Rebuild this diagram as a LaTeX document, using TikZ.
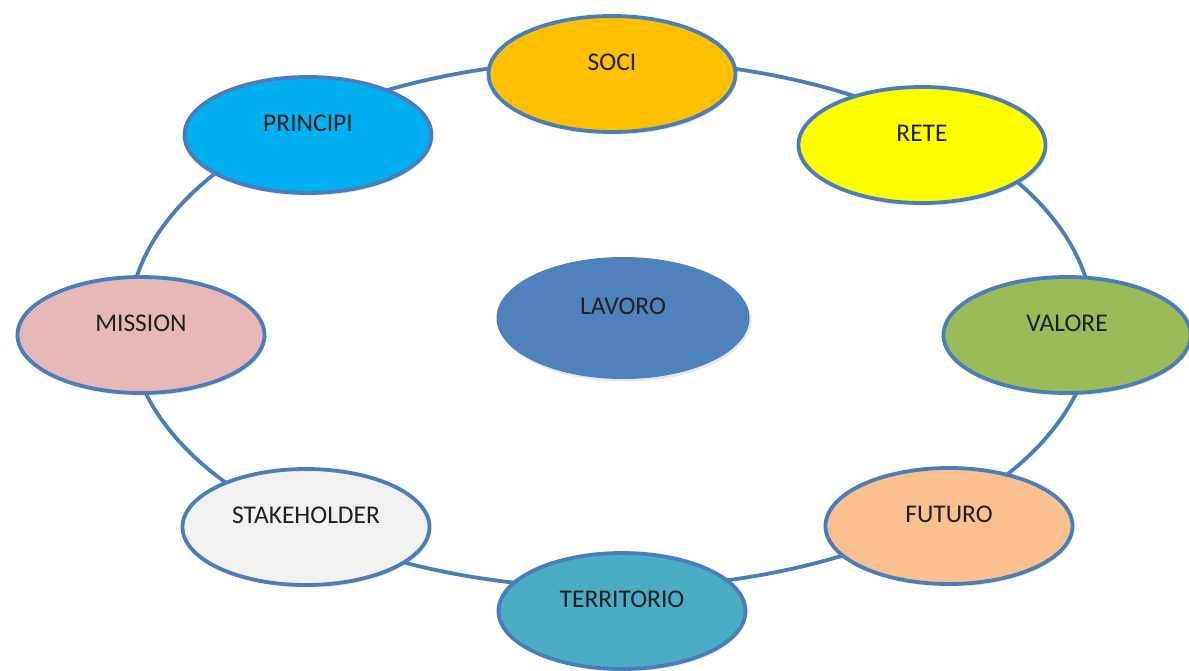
\documentclass[tikz,border=0pt]{standalone}
\usepackage{fontspec}
\setmainfont{Carlito}
\usetikzlibrary{shapes.geometric,shadows}
\definecolor{edgeblue}{HTML}{4A7EBB}
\definecolor{csoci}{HTML}{FFC000}
\definecolor{crete}{HTML}{FFFF00}
\definecolor{cprincipi}{HTML}{00B0F0}
\definecolor{cmission}{HTML}{E6B9B8}
\definecolor{clavoro}{HTML}{4F81BD}
\definecolor{cvalore}{HTML}{9BBB59}
\definecolor{cstake}{HTML}{F2F2F2}
\definecolor{cfuturo}{HTML}{FAC090}
\definecolor{cterr}{HTML}{4BACC6}
\tikzset{
  bubble/.style={ellipse, draw=edgeblue, line width=3.8pt, inner sep=0pt,
    minimum width=247pt, minimum height=116pt,
    text height=17pt, text depth=23.6pt,
    font=\fontsize{25.5}{30}\selectfont, text=black!88,
    drop shadow={opacity=0.18, shadow xshift=1.5pt, shadow yshift=-2.5pt}},
  ringstyle/.style={ellipse, draw=edgeblue, line width=3.8pt, inner sep=0pt,
    minimum width=964pt, minimum height=528pt}
}
\begin{document}
\begin{tikzpicture}[x=1pt,y=-1pt]
\useasboundingbox (0,0) rectangle (1189,670);
\node[ringstyle] (ring) at (611,324) {};
\node[bubble, fill=csoci] (soci) at (612,74) {SOCI};
\node[bubble, fill=crete] (rete) at (922,145) {RETE};
\node[bubble, fill=cprincipi] (principi) at (308,135) {PRINCIPI};
\node[bubble, fill=cmission] (mission) at (141,335) {MISSION};
\node[bubble, fill=clavoro, draw=none, minimum width=253pt, minimum height=122pt] (lavoro) at (623,318) {LAVORO};
\node[bubble, fill=cvalore] (valore) at (1067,335) {VALORE};
\node[bubble, fill=cstake] (stake) at (306,527) {STAKEHOLDER};
\node[bubble, fill=cfuturo] (futuro) at (949,526) {FUTURO};
\node[bubble, fill=cterr] (territorio) at (622,611) {TERRITORIO};
\end{tikzpicture}
\end{document}
